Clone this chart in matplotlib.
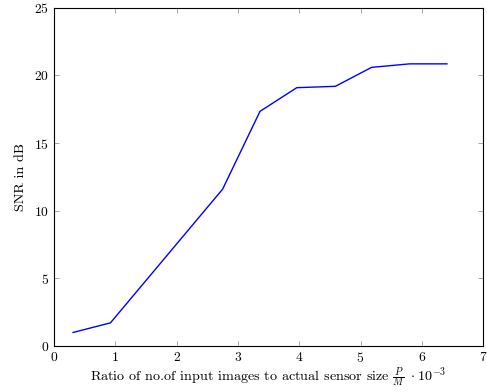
import matplotlib
matplotlib.use("Agg")
import matplotlib.pyplot as plt

plt.rcParams["font.family"] = "serif"
plt.rcParams["font.serif"] = ["cmr10", "DejaVu Serif"]
plt.rcParams["mathtext.fontset"] = "cm"
plt.rcParams["axes.formatter.use_mathtext"] = True

# ratio P/M (x 10^-3) and resulting SNR
ratio = [0.31, 0.92, 2.75, 3.36, 3.96, 4.59, 5.18, 5.80, 6.41]
snr_db = [1.01, 1.72, 11.6, 17.35, 19.1, 19.2, 20.6, 20.86, 20.86]

x_ticks = [0, 1, 2, 3, 4, 5, 6, 7]
y_ticks = [0, 5, 10, 15, 20, 25]

fig = plt.figure(figsize=(4.87, 3.92), dpi=100)
ax = fig.add_axes([0.111, 0.117, 0.881, 0.863])
ax.plot(ratio, snr_db, color="blue", linewidth=1.0)

ax.set_xlim(0, 7)
ax.set_ylim(0, 25)
ax.set_xticks(x_ticks)
ax.set_yticks(y_ticks)
ax.tick_params(direction="in", length=3.5, width=0.6, color="#999999",
               top=True, right=True, labelsize=9.8)
for s in ax.spines.values():
    s.set_linewidth(0.8)

ax.set_xlabel(r"Ratio of no.of input images to actual sensor size $\frac{P}{M}\ \cdot 10^{-3}$",
              fontsize=10.2, labelpad=0.5)
ax.set_ylabel("SNR in dB", fontsize=10.2, labelpad=5)

fig.savefig("out.png", dpi=100)
